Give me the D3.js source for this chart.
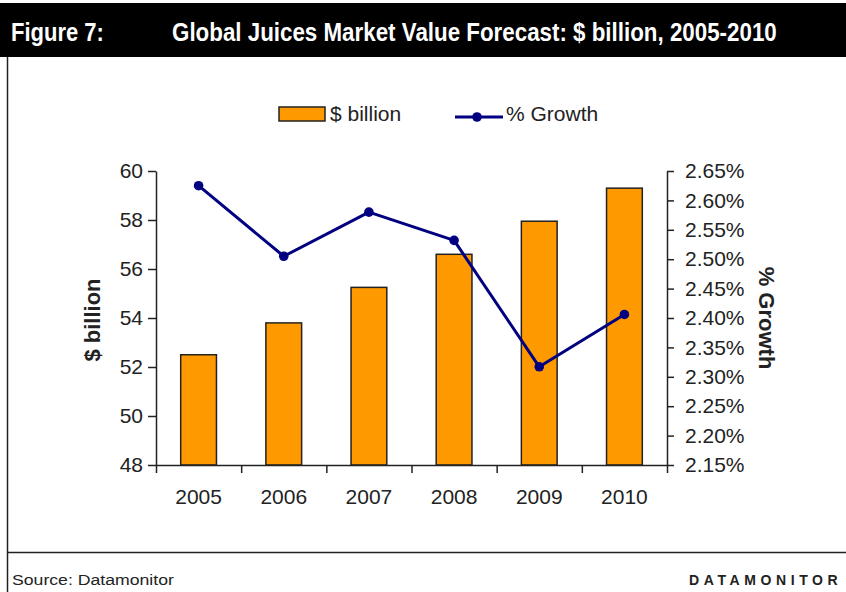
<!DOCTYPE html>
<html>
<head>
<meta charset="utf-8">
<script src="https://cdn.jsdelivr.net/npm/d3@7"></script>
<style>
  html, body { margin: 0; padding: 0; background: #fff; }
  svg { display: block; }
  text { font-family: "Liberation Sans", Arial, sans-serif; fill: #222; }
</style>
</head>
<body>
<svg id="chart" width="846" height="592"></svg>
<script>
// Global juices market value and yearly growth, 2005-2010
const years = ["2005", "2006", "2007", "2008", "2009", "2010"];
const valueBillion = [52.5, 53.8, 55.25, 56.6, 57.95, 59.3];
const growthPct = [2.625, 2.505, 2.58, 2.532, 2.317, 2.406];
const leftTicks = [48, 50, 52, 54, 56, 58, 60];
const rightTicks = [2.15, 2.20, 2.25, 2.30, 2.35, 2.40, 2.45, 2.50, 2.55, 2.60, 2.65];

const W = 846, H = 592;
const plot = { left: 156, right: 667, top: 171, bottom: 465 };
const BAR = "#FF9900", LINE = "#000080";

const svg = d3.select("#chart");

// Squeeze a text horizontally so it fills the given width
function fitWidth(sel, x, y, width) {
  const w = sel.node().getComputedTextLength();
  sel.attr("transform", `translate(${x},${y}) scale(${width / w},1)`);
}

// Header band with condensed bold title
svg.append("rect").attr("x", 0).attr("y", 3).attr("width", W).attr("height", 54).attr("fill", "#000");
const header = svg.append("g").attr("font-size", 25).attr("font-weight", "bold");
fitWidth(header.append("text").style("fill", "#fff").text("Figure 7:"), 11, 41, 93);
fitWidth(header.append("text").style("fill", "#fff")
  .text("Global Juices Market Value Forecast: $ billion, 2005-2010"), 172, 41, 605);

// Frame lines
svg.append("line").attr("x1", 7.5).attr("x2", 7.5).attr("y1", 57).attr("y2", H)
  .attr("stroke", "#222").attr("stroke-width", 1.5);
svg.append("line").attr("x1", 7).attr("x2", W).attr("y1", 552.5).attr("y2", 552.5)
  .attr("stroke", "#222").attr("stroke-width", 1.5);

// Footer
fitWidth(svg.append("text").attr("font-size", 15).text("Source: Datamonitor"), 12, 585, 162);
svg.append("text").attr("x", 689).attr("y", 585)
  .attr("font-size", 14).attr("font-weight", "bold").attr("letter-spacing", 4.6)
  .text("DATAMONITOR");

// Scales
const x = d3.scaleBand().domain(years).range([plot.left, plot.right])
  .paddingInner(0.58).paddingOuter(0.29);
const xEdge = d3.scaleLinear().domain([0, years.length]).range([plot.left, plot.right]);
const yL = d3.scaleLinear().domain([48, 60]).range([plot.bottom, plot.top]);
const yR = d3.scaleLinear().domain([2.15, 2.65]).range([plot.bottom, plot.top]);

// Bars
svg.append("g").selectAll("rect").data(years).join("rect")
  .attr("x", d => x(d))
  .attr("y", (d, i) => yL(valueBillion[i]))
  .attr("width", x.bandwidth())
  .attr("height", (d, i) => yL(48) - yL(valueBillion[i]))
  .attr("fill", BAR).attr("stroke", "#222").attr("stroke-width", 1.5);

// Axes
const styleAxis = g => {
  g.selectAll("path, line").attr("stroke", "#222").attr("stroke-width", 1.5);
  g.selectAll("text").attr("font-size", 21).attr("font-family", "Liberation Sans, Arial, sans-serif").style("fill", "#222");
};

svg.append("g").attr("transform", `translate(${plot.left},0)`)
  .call(d3.axisLeft(yL).tickValues(leftTicks).tickSize(8).tickSizeOuter(0).tickPadding(5).tickFormat(d3.format("d")))
  .call(styleAxis);

svg.append("g").attr("transform", `translate(${plot.right},0)`)
  .call(d3.axisRight(yR).tickValues(rightTicks).tickSize(7).tickSizeOuter(0).tickPadding(11)
    .tickFormat(d => d3.format(".2f")(d) + "%"))
  .call(styleAxis);

// Bottom axis: ticks on category boundaries, labels centered on categories
svg.append("g").attr("transform", `translate(0,${plot.bottom})`)
  .call(d3.axisBottom(xEdge).tickValues(d3.range(years.length + 1)).tickSize(8).tickSizeOuter(0).tickFormat(""))
  .call(styleAxis);
svg.append("g").attr("transform", `translate(0,${plot.bottom})`)
  .call(d3.axisBottom(x).tickSize(0).tickPadding(24))
  .call(g => g.select(".domain").remove())
  .call(styleAxis);

// Growth line
const line = d3.line()
  .x((d, i) => x(years[i]) + x.bandwidth() / 2)
  .y(d => yR(d));
svg.append("path").datum(growthPct).attr("d", line)
  .attr("fill", "none").attr("stroke", LINE).attr("stroke-width", 3).attr("stroke-linejoin", "round");
svg.append("g").selectAll("circle").data(growthPct).join("circle")
  .attr("cx", (d, i) => x(years[i]) + x.bandwidth() / 2)
  .attr("cy", d => yR(d))
  .attr("r", 4.8).attr("fill", LINE);

// Axis titles
svg.append("text").attr("transform", "translate(100,320) rotate(-90)")
  .attr("text-anchor", "middle").attr("font-size", 22).attr("font-weight", "bold")
  .text("$ billion");
svg.append("text").attr("transform", "translate(759,318) rotate(90)")
  .attr("text-anchor", "middle").attr("font-size", 22).attr("font-weight", "bold")
  .text("% Growth");

// Legend
const lg = svg.append("g");
lg.append("rect").attr("x", 279).attr("y", 107).attr("width", 46).attr("height", 14)
  .attr("fill", BAR).attr("stroke", "#222").attr("stroke-width", 1.5);
lg.append("text").attr("x", 330).attr("y", 121).attr("font-size", 21).text("$ billion");
lg.append("line").attr("x1", 455).attr("x2", 503).attr("y1", 117).attr("y2", 117)
  .attr("stroke", LINE).attr("stroke-width", 3);
lg.append("circle").attr("cx", 477).attr("cy", 117).attr("r", 4.8).attr("fill", LINE);
lg.append("text").attr("x", 506).attr("y", 121).attr("font-size", 21).text("% Growth");
</script>
</body>
</html>
